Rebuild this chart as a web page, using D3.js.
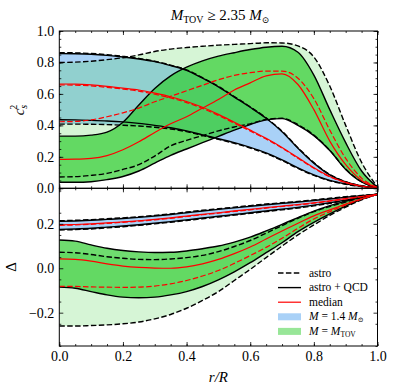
<!DOCTYPE html>
<html>
<head>
<meta charset="utf-8">
<script src="https://cdnjs.cloudflare.com/ajax/libs/d3/7.8.5/d3.min.js"></script>
<style>
  body { margin: 0; background: #fff; }
  svg text { font-family: "Liberation Serif", "Times New Roman", serif; fill: #000; }
</style>
</head>
<body>
<svg id="chart" width="394" height="391"></svg>
<script>
// radial grid r/R
let rs = [0, 0.05, 0.1, 0.15, 0.2, 0.25, 0.3, 0.35, 0.4, 0.45, 0.5, 0.55, 0.6, 0.65, 0.7, 0.75, 0.8, 0.85, 0.9, 0.95, 1.0]

// c_s^2, M = 1.4 Msun
let csBlueAstroHi = [0.862, 0.861, 0.857, 0.850, 0.839, 0.826, 0.808, 0.783, 0.753, 0.703, 0.648, 0.583, 0.518, 0.448, 0.363, 0.258, 0.163, 0.088, 0.042, 0.016, 0.003]
let csBlueAstroLo = [0.408, 0.408, 0.407, 0.405, 0.401, 0.396, 0.388, 0.377, 0.360, 0.336, 0.311, 0.286, 0.256, 0.221, 0.176, 0.126, 0.082, 0.048, 0.026, 0.011, 0.003]
let csBlueAstroMed = [0.657, 0.656, 0.651, 0.642, 0.631, 0.618, 0.598, 0.575, 0.545, 0.508, 0.463, 0.414, 0.364, 0.313, 0.256, 0.191, 0.127, 0.073, 0.036, 0.013, 0.003]
let csBlueQcdHi = [0.856, 0.855, 0.852, 0.845, 0.835, 0.822, 0.805, 0.780, 0.750, 0.700, 0.645, 0.580, 0.515, 0.445, 0.360, 0.255, 0.160, 0.085, 0.040, 0.015, 0.003]
let csBlueQcdLo = [0.436, 0.435, 0.432, 0.428, 0.422, 0.413, 0.400, 0.385, 0.365, 0.340, 0.315, 0.290, 0.260, 0.225, 0.180, 0.130, 0.085, 0.050, 0.028, 0.012, 0.003]
let csBlueQcdMed = [0.663, 0.662, 0.657, 0.648, 0.637, 0.625, 0.605, 0.582, 0.552, 0.515, 0.470, 0.420, 0.370, 0.318, 0.260, 0.195, 0.130, 0.075, 0.038, 0.014, 0.003]

// c_s^2, M = M_TOV
let csTovAstroHi = [0.800, 0.802, 0.808, 0.818, 0.830, 0.848, 0.870, 0.885, 0.895, 0.903, 0.910, 0.915, 0.920, 0.925, 0.924, 0.905, 0.835, 0.650, 0.400, 0.165, 0.008]
let csTovAstroLo = [0.072, 0.074, 0.082, 0.095, 0.120, 0.150, 0.205, 0.270, 0.305, 0.335, 0.365, 0.390, 0.410, 0.437, 0.445, 0.405, 0.338, 0.242, 0.122, 0.042, 0.004]
let csTovAstroMed = [0.423, 0.425, 0.435, 0.455, 0.480, 0.510, 0.550, 0.585, 0.620, 0.655, 0.690, 0.718, 0.735, 0.745, 0.745, 0.700, 0.570, 0.370, 0.190, 0.065, 0.005]
let csTovQcdHi = [0.332, 0.332, 0.338, 0.357, 0.420, 0.530, 0.635, 0.715, 0.770, 0.810, 0.840, 0.862, 0.882, 0.897, 0.903, 0.865, 0.720, 0.500, 0.290, 0.110, 0.006]
let csTovQcdLo = [0.038, 0.038, 0.042, 0.055, 0.075, 0.110, 0.160, 0.210, 0.250, 0.290, 0.330, 0.370, 0.405, 0.435, 0.443, 0.400, 0.335, 0.240, 0.120, 0.040, 0.004]
let csTovQcdMed = [0.184, 0.185, 0.190, 0.208, 0.245, 0.296, 0.355, 0.410, 0.455, 0.510, 0.565, 0.625, 0.670, 0.715, 0.728, 0.660, 0.500, 0.300, 0.150, 0.050, 0.005]

// Delta, M = 1.4 Msun
let dBlueAstroHi = [0.214, 0.216, 0.219, 0.223, 0.227, 0.232, 0.238, 0.245, 0.253, 0.261, 0.268, 0.275, 0.282, 0.289, 0.295, 0.301, 0.308, 0.315, 0.322, 0.328, 0.333]
let dBlueAstroLo = [0.172, 0.174, 0.177, 0.182, 0.187, 0.193, 0.200, 0.207, 0.215, 0.223, 0.231, 0.239, 0.247, 0.255, 0.263, 0.271, 0.281, 0.292, 0.305, 0.319, 0.333]
let dBlueAstroMed = [0.193, 0.195, 0.198, 0.202, 0.207, 0.212, 0.218, 0.225, 0.233, 0.241, 0.248, 0.256, 0.263, 0.271, 0.278, 0.285, 0.293, 0.302, 0.312, 0.322, 0.333]
let dBlueQcdHi = [0.211, 0.213, 0.216, 0.220, 0.224, 0.229, 0.235, 0.242, 0.250, 0.258, 0.265, 0.272, 0.279, 0.286, 0.292, 0.298, 0.305, 0.312, 0.320, 0.327, 0.333]
let dBlueQcdLo = [0.175, 0.177, 0.180, 0.185, 0.190, 0.196, 0.203, 0.210, 0.218, 0.226, 0.234, 0.242, 0.250, 0.258, 0.266, 0.274, 0.284, 0.295, 0.307, 0.320, 0.333]
let dBlueQcdMed = [0.195, 0.197, 0.200, 0.204, 0.209, 0.214, 0.220, 0.227, 0.235, 0.243, 0.250, 0.258, 0.265, 0.273, 0.280, 0.287, 0.295, 0.304, 0.314, 0.323, 0.333]

// Delta, M = M_TOV
let dTovAstroHi = [0.072, 0.070, 0.062, 0.052, 0.045, 0.040, 0.039, 0.042, 0.048, 0.058, 0.075, 0.098, 0.125, 0.158, 0.192, 0.225, 0.255, 0.278, 0.298, 0.318, 0.333]
let dTovAstroLo = [-0.260, -0.260, -0.258, -0.255, -0.250, -0.242, -0.228, -0.208, -0.180, -0.145, -0.105, -0.055, -0.005, 0.048, 0.100, 0.150, 0.195, 0.238, 0.275, 0.308, 0.333]
let dTovAstroMed = [-0.081, -0.082, -0.084, -0.085, -0.086, -0.085, -0.080, -0.070, -0.055, -0.035, -0.010, 0.022, 0.057, 0.094, 0.135, 0.180, 0.222, 0.255, 0.285, 0.311, 0.333]
let dTovQcdHi = [0.127, 0.122, 0.105, 0.090, 0.080, 0.074, 0.071, 0.072, 0.078, 0.088, 0.100, 0.118, 0.140, 0.168, 0.198, 0.228, 0.257, 0.282, 0.302, 0.320, 0.333]
let dTovQcdLo = [-0.085, -0.090, -0.105, -0.120, -0.130, -0.133, -0.130, -0.120, -0.105, -0.082, -0.052, -0.016, 0.025, 0.070, 0.115, 0.165, 0.207, 0.245, 0.280, 0.310, 0.333]
let dTovQcdMed = [0.042, 0.040, 0.032, 0.020, 0.010, 0.004, 0.001, 0.000, 0.006, 0.020, 0.040, 0.066, 0.096, 0.132, 0.168, 0.203, 0.236, 0.263, 0.289, 0.313, 0.333]

let xTicks = [0, 0.2, 0.4, 0.6, 0.8, 1.0]
let csTicks = [0, 0.2, 0.4, 0.6, 0.8, 1.0]
let dTicks = [-0.2, 0, 0.2]
let legendLines = ['astro', 'astro + QCD', 'median']

let blueFill = '#a9d1f7'
let green = '#32cd32'

let svg = d3.select('#chart')
svg.append('rect').attr('width', 394).attr('height', 391).attr('fill', '#fff')

let left = 59.3
let right = 377.5
let x = d3.scaleLinear().domain([0, 1]).range([left, right])
let yTop = d3.scaleLinear().domain([0, 1]).range([188.3, 31])
let yBot = d3.scaleLinear().domain([-0.35, 0.36]).range([346, 188.3])

let defs = svg.append('defs')
function clip (id, y) {
  defs.append('clipPath').attr('id', id)
    .append('rect')
    .attr('x', left).attr('y', y.range()[1])
    .attr('width', right - left).attr('height', y.range()[0] - y.range()[1])
}
clip('clipTop', yTop)
clip('clipBot', yBot)

function band (g, y, lo, hi, fill, opacity) {
  let area = d3.area()
    .x(function (d) { return x(d) })
    .y0(function (d, i) { return y(lo[i]) })
    .y1(function (d, i) { return y(hi[i]) })
    .curve(d3.curveMonotoneX)
  g.append('path').attr('d', area(rs))
    .attr('fill', fill).attr('fill-opacity', opacity).attr('stroke', 'none')
}

function curve (g, y, vals, color, dashed, width) {
  let line = d3.line()
    .x(function (d) { return x(d) })
    .y(function (d, i) { return y(vals[i]) })
    .curve(d3.curveMonotoneX)
  g.append('path').attr('d', line(rs))
    .attr('fill', 'none').attr('stroke', color)
    .attr('stroke-width', width)
    .attr('stroke-dasharray', dashed ? '5.5,2.4' : null)
}

function panel (y, clipId, s) {
  let g = svg.append('g').attr('clip-path', 'url(#' + clipId + ')')
  band(g, y, s.blueAstroLo, s.blueAstroHi, blueFill, 1)
  band(g, y, s.blueQcdLo, s.blueQcdHi, blueFill, 1)
  band(g, y, s.tovAstroLo, s.tovAstroHi, green, 0.2)
  band(g, y, s.tovQcdLo, s.tovQcdHi, green, 0.7)

  curve(g, y, s.blueAstroHi, '#000', true, 1.4)
  curve(g, y, s.blueAstroLo, '#000', true, 1.4)
  curve(g, y, s.tovAstroHi, '#000', true, 1.4)
  curve(g, y, s.tovAstroLo, '#000', true, 1.4)
  curve(g, y, s.blueQcdHi, '#000', false, 1.4)
  curve(g, y, s.blueQcdLo, '#000', false, 1.4)
  curve(g, y, s.tovQcdHi, '#000', false, 1.4)
  curve(g, y, s.tovQcdLo, '#000', false, 1.4)
  curve(g, y, s.blueAstroMed, '#ff0000', true, 1.2)
  curve(g, y, s.tovAstroMed, '#ff0000', true, 1.2)
  curve(g, y, s.blueQcdMed, '#ff0000', false, 1.2)
  curve(g, y, s.tovQcdMed, '#ff0000', false, 1.2)
}

panel(yTop, 'clipTop', {
  blueAstroHi: csBlueAstroHi, blueAstroLo: csBlueAstroLo, blueAstroMed: csBlueAstroMed,
  blueQcdHi: csBlueQcdHi, blueQcdLo: csBlueQcdLo, blueQcdMed: csBlueQcdMed,
  tovAstroHi: csTovAstroHi, tovAstroLo: csTovAstroLo, tovAstroMed: csTovAstroMed,
  tovQcdHi: csTovQcdHi, tovQcdLo: csTovQcdLo, tovQcdMed: csTovQcdMed
})
panel(yBot, 'clipBot', {
  blueAstroHi: dBlueAstroHi, blueAstroLo: dBlueAstroLo, blueAstroMed: dBlueAstroMed,
  blueQcdHi: dBlueQcdHi, blueQcdLo: dBlueQcdLo, blueQcdMed: dBlueQcdMed,
  tovAstroHi: dTovAstroHi, tovAstroLo: dTovAstroLo, tovAstroMed: dTovAstroMed,
  tovQcdHi: dTovQcdHi, tovQcdLo: dTovQcdLo, tovQcdMed: dTovQcdMed
})

// axes: ticks pointing inward on all four sides
let fmt = d3.format('.1f')
function axes (y, yMajor, yMinorStep, showX) {
  let top = y.range()[1]
  let bottom = y.range()[0]
  let yMinor = d3.range(y.domain()[0], y.domain()[1] + 1e-9, yMinorStep)
    .map(function (v) { return Math.round(v * 1000) / 1000 })
    .filter(function (v) { return v >= y.domain()[0] && v <= y.domain()[1] })
  let xMinor = d3.range(0, 1.0001, 0.05)

  let mk = function (axis, tx, ty, vals, size, labels) {
    let a = axis.tickValues(vals).tickSize(-size).tickPadding(labels ? 5 : 0)
      .tickFormat(labels ? fmt : '')
    let g = svg.append('g').attr('transform', 'translate(' + tx + ',' + ty + ')').call(a)
    g.attr('font-family', null).attr('font-size', null)
    g.select('.domain').remove()
    g.selectAll('line').attr('stroke', '#000').attr('stroke-width', 0.8)
    g.selectAll('text').style('font-size', '14px')
    return g
  }
  mk(d3.axisBottom(x), 0, bottom, xMinor, 2, false)
  mk(d3.axisBottom(x), 0, bottom, xTicks, 4, showX)
  mk(d3.axisTop(x), 0, top, xMinor, 2, false)
  mk(d3.axisTop(x), 0, top, xTicks, 4, false)
  mk(d3.axisLeft(y), left, 0, yMinor, 2, false)
  mk(d3.axisLeft(y), left, 0, yMajor, 4, true)
  mk(d3.axisRight(y), right, 0, yMinor, 2, false)
  mk(d3.axisRight(y), right, 0, yMajor, 4, false)

  svg.append('rect')
    .attr('x', left).attr('y', top)
    .attr('width', right - left).attr('height', bottom - top)
    .attr('fill', 'none').attr('stroke', '#000').attr('stroke-width', 1)
}
axes(yTop, csTicks, 0.05, false)
axes(yBot, dTicks, 0.1, true)

// title
let title = svg.append('text').attr('x', 220).attr('y', 20)
  .attr('text-anchor', 'middle').attr('font-size', 15)
title.append('tspan').attr('font-style', 'italic').text('M')
title.append('tspan').attr('font-size', 10).attr('dy', 3).text('TOV')
title.append('tspan').attr('dy', -3).text(' \u2265 2.35 ')
title.append('tspan').attr('font-style', 'italic').text('M')
title.append('tspan').attr('font-size', 9).attr('dy', 3).style('font-family', '"DejaVu Serif", serif').text('\u2299')

// y labels
let ylab = svg.append('text').attr('transform', 'translate(24,110) rotate(-90)')
  .attr('text-anchor', 'middle').attr('font-size', 15)
ylab.append('tspan').attr('font-style', 'italic').text('c')
ylab.append('tspan').attr('font-size', 10).attr('font-style', 'italic').attr('dy', 3).text('s')
ylab.append('tspan').attr('font-size', 10).attr('dx', -5).attr('dy', -10).text('2')

svg.append('text').attr('transform', 'translate(16,267) rotate(-90)')
  .attr('text-anchor', 'middle').attr('font-size', 15).text('\u0394')

// x label
svg.append('text').attr('x', x(0.5)).attr('y', 382)
  .attr('text-anchor', 'middle').attr('font-size', 15).attr('font-style', 'italic')
  .text('r/R')

// legend
let lg = svg.append('g').attr('transform', 'translate(278,273)')
let rowH = 14.6
legendLines.forEach(function (name, i) {
  let color = i === 2 ? '#ff0000' : '#000'
  lg.append('line').attr('x1', 0).attr('x2', 23).attr('y1', i * rowH).attr('y2', i * rowH)
    .attr('stroke', color).attr('stroke-width', i === 2 ? 1.2 : 1.4)
    .attr('stroke-dasharray', i === 0 ? '5.5,2.4' : null)
  lg.append('text').attr('x', 31).attr('y', i * rowH + 3.5).attr('font-size', 11.5).text(name)
})
lg.append('rect').attr('x', 0).attr('y', 3 * rowH - 3.5).attr('width', 23).attr('height', 7)
  .attr('fill', blueFill)
lg.append('rect').attr('x', 0).attr('y', 4 * rowH - 3.5).attr('width', 23).attr('height', 7)
  .attr('fill', green).attr('fill-opacity', 0.5)

let t1 = lg.append('text').attr('x', 31).attr('y', 3 * rowH + 3.5).attr('font-size', 11.5)
t1.append('tspan').attr('font-style', 'italic').text('M')
t1.append('tspan').text(' = 1.4 ')
t1.append('tspan').attr('font-style', 'italic').text('M')
t1.append('tspan').attr('font-size', 7).attr('dy', 2).style('font-family', '"DejaVu Serif", serif').text('\u2299')

let t2 = lg.append('text').attr('x', 31).attr('y', 4 * rowH + 3.5).attr('font-size', 11.5)
t2.append('tspan').attr('font-style', 'italic').text('M')
t2.append('tspan').text(' = ')
t2.append('tspan').attr('font-style', 'italic').text('M')
t2.append('tspan').attr('font-size', 7.5).attr('dy', 2).text('TOV')
</script>
</body>
</html>
